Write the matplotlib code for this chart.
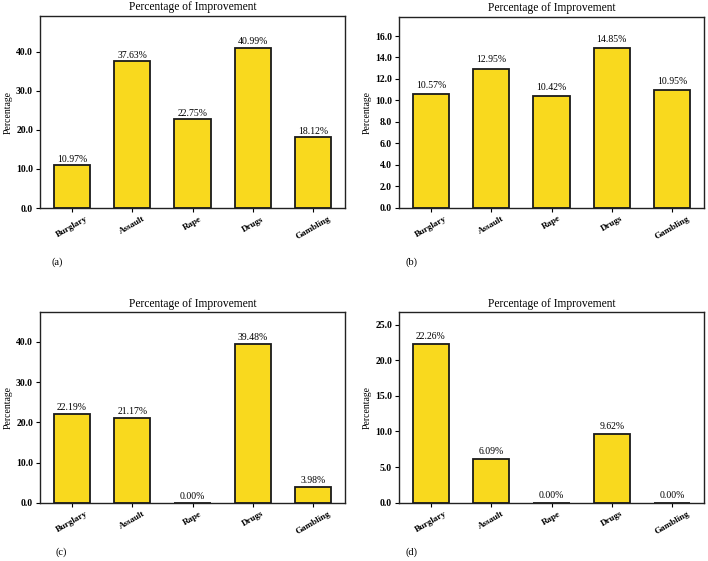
import matplotlib
matplotlib.use("Agg")
import matplotlib.pyplot as plt
from matplotlib.ticker import MultipleLocator, FormatStrFormatter
import numpy as np

categories = ["Burglary", "Assault", "Rape", "Drugs", "Gambling"]
values_a = [10.97, 37.63, 22.75, 40.99, 18.12]
values_b = [10.57, 12.95, 10.42, 14.85, 10.95]
values_c = [22.19, 21.17, 0.00, 39.48, 3.98]
values_d = [22.26, 6.09, 0.00, 9.62, 0.00]
tick_steps = [10, 2, 10, 5]
panel_labels = ["(a)", "(b)", "(c)", "(d)"]
title = "Percentage of Improvement"

plt.rcParams['font.family'] = ['Liberation Serif', 'DejaVu Serif']

W, H = 708, 561
fig = plt.figure(figsize=(W / 100, H / 100), dpi=100)

# axes boxes in pixels: left, right, top, bottom
boxes = [(40, 345, 16, 208), (399, 704, 16.5, 207.5),
         (40, 345, 312.3, 502.7), (399, 704, 312.3, 502.7)]
label_pos = [(57, 262), (411, 262), (61, 552), (411, 552)]
series = [values_a, values_b, values_c, values_d]

for vals, step, (l, r, t, b), lab, (lx, ly) in zip(series, tick_steps, boxes, panel_labels, label_pos):
    ax = fig.add_axes([l / W, 1 - b / H, (r - l) / W, (b - t) / H])
    x = np.arange(len(categories))
    ax.bar(x, vals, width=0.6, color='#F9D91E', edgecolor='#1a1a1a', linewidth=1.3)
    ymax = max(vals) * 1.2
    ax.set_ylim(0, ymax)
    for xi, v in zip(x, vals):
        ax.text(xi, v + 0.4, f"{v:.2f}%", ha='center', va='bottom', fontsize=7)
    ax.set_xticks(x)
    ax.set_xticklabels(categories, rotation=30, fontsize=6.5, fontweight='bold')
    ax.yaxis.set_major_locator(MultipleLocator(step))
    ax.yaxis.set_major_formatter(FormatStrFormatter('%.1f'))
    for tl in ax.get_yticklabels():
        tl.set_fontweight('bold')
        tl.set_fontsize(7)
    ax.tick_params(axis='both', length=3, width=0.8, pad=2)
    ax.set_ylabel("Percentage", fontsize=7)
    ax.yaxis.set_label_coords(-0.09, 0.5)
    ax.set_title(title, fontsize=8.3, pad=4)
    for s in ax.spines.values():
        s.set_linewidth(1.0)
        s.set_edgecolor('#222222')
    fig.text(lx / W, 1 - ly / H, lab, ha='center', va='center', fontsize=7.5)

fig.savefig("out.png", dpi=100)
